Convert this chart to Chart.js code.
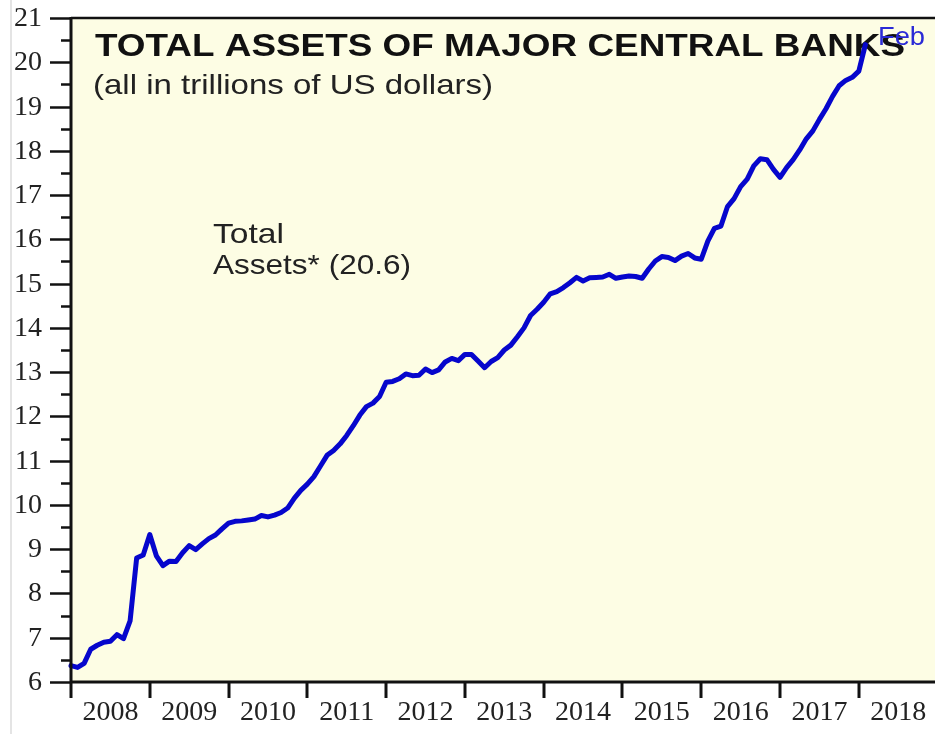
<!DOCTYPE html>
<html>
<head>
<meta charset="utf-8">
<title>Total Assets of Major Central Banks</title>
<script src="https://cdn.jsdelivr.net/npm/chart.js@4.4.0/dist/chart.umd.min.js"></script>
<style>
    html, body { margin: 0; padding: 0; background: #ffffff; }
    .wrap { position: relative; width: 935px; height: 734px; }
    .edge { position: absolute; left: 10px; top: 0; width: 2px; height: 734px; background: #e4e4e4; }
</style>
</head>
<body>
<div class="wrap">
    <canvas id="assetsChart" width="935" height="734"></canvas>
    <div class="edge"></div>
</div>
<script>
// year labels sit in the middle of each year on the x axis
const yearLabels = ["2008", "2009", "2010", "2011", "2012", "2013", "2014", "2015", "2016", "2017", "2018"];

// y axis range, trillions of US dollars
const yMin = 6;
const yMax = 21;

// monthly totals, Jan 2008 .. Feb 2018 (trillions of US dollars)
const totalAssets = [
    6.37, 6.33, 6.42, 6.74, 6.83, 6.90, 6.92, 7.07, 6.98, 7.38, 8.80, 8.87,
    9.33, 8.85, 8.63, 8.73, 8.72, 8.92, 9.08, 8.99, 9.12, 9.24, 9.32, 9.46,
    9.59, 9.63, 9.64, 9.66, 9.68, 9.76, 9.73, 9.77, 9.83, 9.93, 10.15, 10.33,
    10.47, 10.64, 10.88, 11.12, 11.23, 11.38, 11.57, 11.79, 12.03, 12.22, 12.30, 12.45,
    12.77, 12.79, 12.85, 12.96, 12.92, 12.93, 13.07, 12.99, 13.05, 13.23, 13.31, 13.26,
    13.40, 13.40, 13.25, 13.10, 13.24, 13.33, 13.50, 13.61, 13.80, 14.00, 14.28, 14.42,
    14.58, 14.77, 14.82, 14.91, 15.02, 15.14, 15.06, 15.13, 15.14, 15.15, 15.21, 15.12,
    15.15, 15.17, 15.16, 15.12, 15.33, 15.51, 15.61, 15.59, 15.52, 15.62, 15.68, 15.58,
    15.55, 15.96, 16.25, 16.30, 16.74, 16.92, 17.19, 17.36, 17.66, 17.82, 17.80, 17.58,
    17.40, 17.62, 17.80, 18.02, 18.27, 18.45, 18.71, 18.95, 19.23, 19.47, 19.59, 19.66,
    19.80, 20.40
];

const LINE_BLUE = "#0606cc";
const PLOT_BG = "#fdfde4";
const SANS = "'Liberation Sans', Arial, sans-serif";
const SERIF = "'Liberation Serif', 'Times New Roman', serif";

// draw text stretched horizontally so it spans the given width
function fitText(ctx, text, x, y, width) {
    const w = ctx.measureText(text).width;
    ctx.save();
    ctx.translate(x, y);
    ctx.scale(width / w, 1);
    ctx.fillText(text, 0, 0);
    ctx.restore();
}

const chartFrame = {
    id: "chartFrame",
    beforeDraw(chart) {
        const { ctx, chartArea: a } = chart;
        ctx.save();
        ctx.fillStyle = "#ffffff";
        ctx.fillRect(0, 0, chart.width, chart.height);
        ctx.fillStyle = PLOT_BG;
        ctx.fillRect(a.left, a.top, chart.width - a.left, a.bottom - a.top);
        ctx.restore();
    },
    beforeDatasetsDraw(chart) {
        const ctx = chart.ctx;
        ctx.save();
        ctx.textBaseline = "alphabetic";
        ctx.fillStyle = "#111111";
        ctx.font = "bold 32px " + SANS;
        fitText(ctx, "TOTAL ASSETS OF MAJOR CENTRAL BANKS", 95, 56, 810);
        ctx.fillStyle = "#222222";
        ctx.font = "28px " + SANS;
        fitText(ctx, "(all in trillions of US dollars)", 93, 94, 400);
        ctx.font = "28px " + SANS;
        fitText(ctx, "Total", 213, 243, 71);
        fitText(ctx, "Assets* (20.6)", 213, 274, 198);
        ctx.restore();
    },
    afterDatasetsDraw(chart) {
        const { ctx, chartArea: a } = chart;
        const x = chart.scales.x;
        const y = chart.scales.y;
        ctx.save();
        ctx.strokeStyle = "#111111";
        ctx.lineCap = "butt";

        // frame: top, left, bottom
        ctx.lineWidth = 2.5;
        ctx.beginPath();
        ctx.moveTo(a.left, a.top);
        ctx.lineTo(chart.width, a.top);
        ctx.stroke();
        ctx.lineWidth = 3;
        ctx.beginPath();
        ctx.moveTo(a.left, a.top - 1);
        ctx.lineTo(a.left, a.bottom);
        ctx.moveTo(a.left, a.bottom);
        ctx.lineTo(chart.width, a.bottom);
        ctx.stroke();

        // y ticks: long at whole numbers, short at halves, labels on whole numbers
        ctx.lineWidth = 2.5;
        ctx.fillStyle = "#222222";
        ctx.font = "28px " + SERIF;
        ctx.textAlign = "right";
        ctx.textBaseline = "middle";
        for (let v = yMin; v <= yMax; v += 0.5) {
            const py = Math.round(y.getPixelForValue(v)) + 0.5;
            const whole = Number.isInteger(v);
            const len = whole ? 21 : 10;
            ctx.beginPath();
            ctx.moveTo(a.left - len, py);
            ctx.lineTo(a.left, py);
            ctx.stroke();
            if (whole) {
                ctx.fillText(String(v), 42, py);
            }
        }

        // x ticks at each year boundary
        ctx.lineWidth = 3;
        yearLabels.forEach(function (label, k) {
            const px = Math.round(x.getPixelForValue(k * 12));
            ctx.beginPath();
            ctx.moveTo(px, a.bottom);
            ctx.lineTo(px, a.bottom + 16);
            ctx.stroke();
        });

        ctx.textAlign = "left";
        ctx.textBaseline = "alphabetic";
        ctx.fillStyle = "#2a2ad6";
        ctx.font = "26px " + SANS;
        fitText(ctx, "Feb", 878, 45, 47);
        ctx.restore();
    }
};

new Chart(document.getElementById("assetsChart").getContext("2d"), {
    type: "line",
    data: {
        datasets: [
            {
                label: "Total Assets",
                data: totalAssets.map(function (v, i) {
                    return { x: i, y: v };
                }),
                borderColor: LINE_BLUE,
                borderWidth: 5,
                pointRadius: 0,
                tension: 0,
                borderJoinStyle: "round",
                borderCapStyle: "round",
                clip: false,
            },
        ],
    },
    options: {
        responsive: false,
        animation: false,
        devicePixelRatio: 1,
        layout: {
            padding: { top: 18, right: 2, left: 0, bottom: 0 },
        },
        plugins: {
            legend: { display: false },
            tooltip: { enabled: false },
        },
        scales: {
            x: {
                type: "linear",
                min: 0,
                max: 131.3,
                grid: { display: false, drawTicks: false },
                border: { display: false },
                afterFit: function (scale) {
                    scale.height = 52;
                    scale.paddingLeft = 0;
                    scale.paddingRight = 0;
                },
                afterBuildTicks: function (scale) {
                    scale.ticks = yearLabels.map(function (label, k) {
                        return { value: k * 12 + 6 };
                    });
                },
                ticks: {
                    autoSkip: false,
                    maxRotation: 0,
                    padding: 14,
                    color: "#222222",
                    font: { family: SERIF, size: 28 },
                    callback: function (value) {
                        return yearLabels[Math.round((value - 6) / 12)];
                    },
                },
            },
            y: {
                min: yMin,
                max: yMax,
                grid: { display: false, drawTicks: false },
                border: { display: false },
                afterFit: function (scale) {
                    scale.width = 71;
                },
                ticks: { display: false, stepSize: 1 },
            },
        },
    },
    plugins: [chartFrame],
});
</script>
</body>
</html>
